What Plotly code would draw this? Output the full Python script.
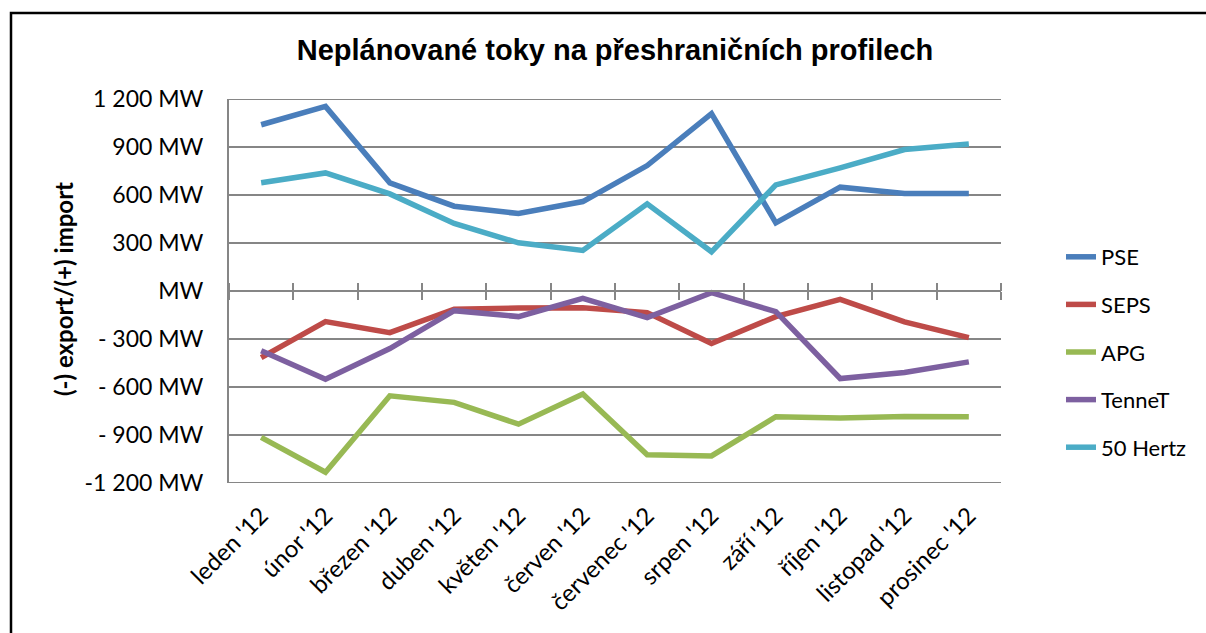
import plotly.graph_objects as go

categories = ["leden '12", "únor '12", "březen '12", "duben '12", "květen '12", "červen '12",
              "červenec '12", "srpen '12", "září '12", "říjen '12", "listopad '12", "prosinec '12"]

pse = [1039, 1154, 676, 530, 484, 559, 784, 1108, 426, 649, 609, 609]
seps = [-416, -191, -260, -114, -106, -104, -135, -328, -160, -52, -193, -291]
apg = [-915, -1133, -655, -696, -832, -644, -1023, -1031, -786, -794, -784, -786]
tennet = [-374, -551, -360, -123, -160, -46, -166, -10, -129, -547, -509, -443]
hertz50 = [676, 738, 607, 422, 301, 254, 545, 245, 663, 769, 884, 919]

series_names = ["PSE", "SEPS", "APG", "TenneT", "50 Hertz"]
series_values = [pse, seps, apg, tennet, hertz50]
series_colors = ["#4A7EBB", "#BE4B48", "#98B954", "#7D60A0", "#4BACC6"]

y_tickvals = [1200, 900, 600, 300, 0, -300, -600, -900, -1200]
y_ticktext = ["1 200 MW", "900 MW", "600 MW", "300 MW", "MW", "- 300 MW", "- 600 MW", "- 900 MW", "-1 200 MW"]

FONT = "Lato"
GRAY = "#868686"

fig = go.Figure()
for i, (name, vals, col) in enumerate(zip(series_names, series_values, series_colors)):
    fig.add_trace(go.Scatter(
        x=categories, y=vals, name=name, mode="lines",
        line=dict(color=col, width=5.5), legendgroup=f"g{i}"))

# dummy traces for the zero-crossing category axis
for ax in ["x2", "x3"]:
    fig.add_trace(go.Scatter(x=categories, y=[None] * len(categories), xaxis=ax, yaxis="y",
                             showlegend=False, hoverinfo="skip", mode="lines"))

W, H = 1206, 633
L, R, T, B = 229, 205, 99, 150
pw, ph = W - L - R, H - T - B

def px_x(px):
    return (px - L) / pw

def px_y(py):
    return (H - B - py) / ph

axis_common = dict(type="category", range=[-0.5, len(categories) - 0.5])
y_lo, y_hi = min(y_tickvals), max(y_tickvals)

# edge grid lines (Plotly drops grid lines that sit exactly on the range ends)
edge_lines = [dict(type="line", xref="paper", x0=0, x1=1, yref="y", y0=v, y1=v,
                   line=dict(color=GRAY, width=2), layer="below")
              for v in (y_lo, y_hi)]

fig.update_layout(
    width=W, height=H,
    margin=dict(l=L, r=R, t=T, b=B),
    paper_bgcolor="white", plot_bgcolor="white",
    font=dict(family=FONT, size=22, color="black"),
    title=dict(text="<b>Neplánované toky na přeshraničních profilech</b>",
               font=dict(family="Liberation Sans", size=29, color="black"),
               x=0.5, xref="paper", xanchor="center", y=1 - 50 / H, yanchor="middle"),
    xaxis=dict(**axis_common, showgrid=False, showline=False, zeroline=False,
               tickangle=-45, ticks="outside", ticklen=8, tickcolor="rgba(0,0,0,0)",
               tickfont=dict(family=FONT, size=24)),
    xaxis2=dict(**axis_common, overlaying="x", anchor="free", position=0.5,
                showline=True, linecolor=GRAY, linewidth=2, ticks="outside", ticklen=8,
                tickwidth=2, tickcolor=GRAY, tickson="boundaries", showticklabels=False,
                showgrid=False, zeroline=False),
    xaxis3=dict(**axis_common, overlaying="x", anchor="free", position=0.5, side="top",
                showline=False, ticks="outside", ticklen=8,
                tickwidth=2, tickcolor=GRAY, tickson="boundaries", showticklabels=False,
                showgrid=False, zeroline=False),
    yaxis=dict(range=[y_lo, y_hi], tickvals=y_tickvals, ticktext=y_ticktext,
               showgrid=True, gridcolor=GRAY, gridwidth=2, zeroline=False,
               showline=True, linecolor=GRAY, linewidth=2,
               ticks="outside", ticklen=19, tickcolor="rgba(0,0,0,0)",
               tickfont=dict(family=FONT, size=23)),
    legend=dict(x=px_x(1061), y=px_y(236), xanchor="left", yanchor="top",
                font=dict(family=FONT, size=22), tracegroupgap=16,
                bgcolor="rgba(0,0,0,0)"),
    showlegend=True,
    annotations=[dict(text="<b>(-) export/(+) import</b>", textangle=-90,
                      x=px_x(63), y=px_y(289), xref="paper", yref="paper",
                      showarrow=False, font=dict(family=FONT, size=24, color="black"),
                      xanchor="center", yanchor="middle")],
    shapes=[dict(type="rect", xref="paper", yref="paper",
                 x0=px_x(11), x1=px_x(1300), y0=px_y(700), y1=px_y(13),
                 line=dict(color="black", width=2.5), fillcolor="rgba(0,0,0,0)",
                 layer="below")] + edge_lines,
)

fig.write_html("out.html", config={"displayModeBar": False},
               post_script="document.body.style.margin='0';document.body.style.overflow='hidden';")
